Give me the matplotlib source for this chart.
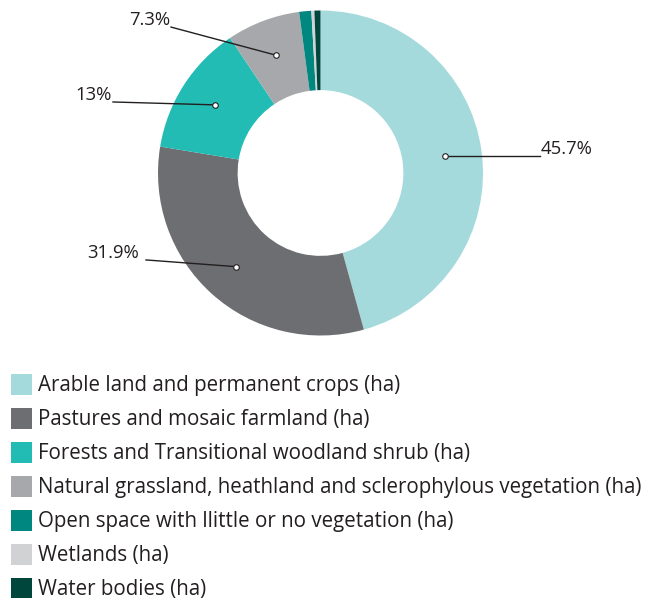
import numpy as np
import matplotlib.pyplot as plt
from matplotlib.patches import Rectangle

plt.rcParams['font.family'] = ['Open Sans', 'DejaVu Sans']

categories = [
    'Arable land and permanent crops (ha)',
    'Pastures and mosaic farmland (ha)',
    'Forests and Transitional woodland shrub (ha)',
    'Natural grassland, heathland and sclerophylous vegetation (ha)',
    'Open space with llittle or no vegetation (ha)',
    'Wetlands (ha)',
    'Water bodies (ha)',
]
shares = [45.7, 31.9, 13.0, 7.3, 1.2, 0.3, 0.6]
colors = ['#a4dadb', '#6d6e71', '#22bcb4', '#a7a8ab', '#00877f', '#d1d2d4', '#00463c']

# callouts for the four biggest slices: line end (x, y), text x, alignment
callout_end = [(1.351, None), (-1.074, -0.535), (-1.277, 0.437), (-0.920, 0.898)]
callout_text_x = [1.357, -1.117, -1.283, -0.926]
callout_ha = ['left', 'right', 'right', 'right']

W, H = 654, 598
cx, cy, R = 320.5, 173, 162.5

fig = plt.figure(figsize=(W / 100, H / 100), dpi=100)
ax = fig.add_axes([0, 0, 1, 1])

ring = 0.49
wedges, _ = ax.pie(shares, colors=colors, startangle=90, counterclock=False,
                   radius=1, wedgeprops=dict(width=ring, linewidth=0))
ax.set_xlim(-cx / R, (W - cx) / R)
ax.set_ylim(-(H - cy) / R, cy / R)
ax.set_aspect('equal')
ax.axis('off')

# dots sit a little outside the middle of the ring
rdot = 0.775
for i, (x_end, y_end) in enumerate(callout_end):
    w = wedges[i]
    ang = np.deg2rad((w.theta1 + w.theta2) / 2)
    dx, dy = rdot * np.cos(ang), rdot * np.sin(ang)
    if y_end is None:
        y_end = dy
    ax.plot([x_end, dx], [y_end, dy], color='#231f20', lw=1.0, zorder=3)
    ax.plot(dx, dy, 'o', ms=4, mfc='white', mec='#231f20', mew=0.8, zorder=4)
    ax.text(callout_text_x[i], y_end + 0.01, f'{shares[i]:g}%', ha=callout_ha[i],
            va='baseline', fontsize=13.3, color='#231f20')

# legend rows down the bottom
row0, step = 384, 34
for i, (name, col) in enumerate(zip(categories, colors)):
    yc = row0 + i * step
    fig.patches.append(Rectangle((11 / W, 1 - (yc + 11) / H), 21 / W, 21 / H,
                                 transform=fig.transFigure, color=col, lw=0))
    fig.text(38 / W, 1 - (yc + 1) / H, name, ha='left', va='center',
             fontsize=14.8, color='#231f20')

fig.savefig('out.png', dpi=100)
